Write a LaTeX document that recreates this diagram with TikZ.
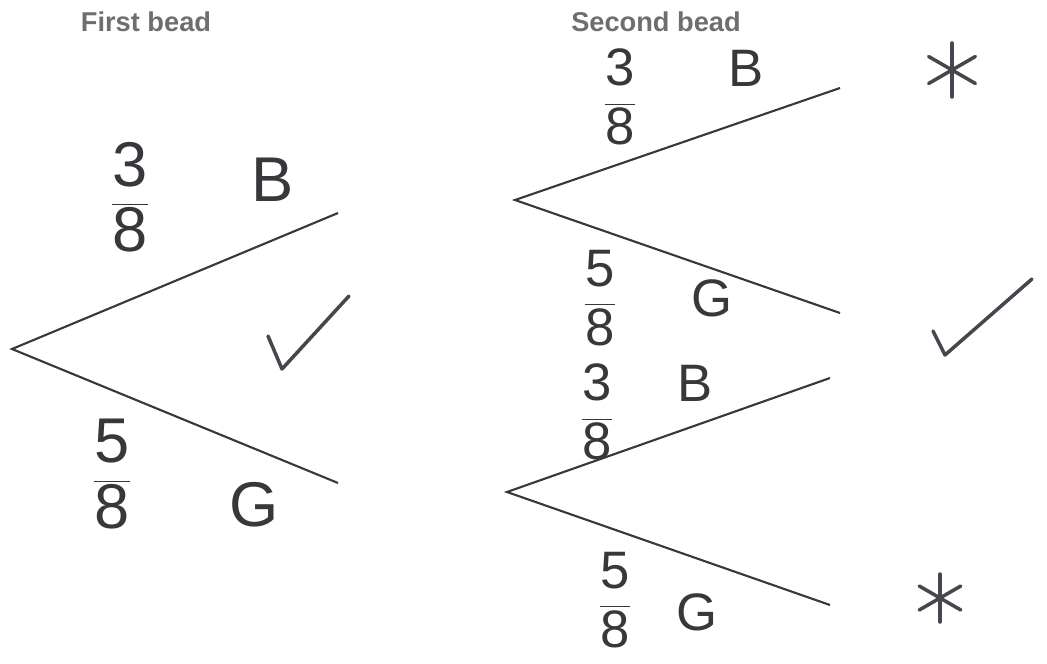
\documentclass[tikz,border=0pt]{standalone}
\usepackage{fontspec}
\setmainfont{Liberation Sans}
\usepackage{xcolor}
\usetikzlibrary{positioning}
\definecolor{inkgray}{RGB}{55, 55, 60}
\definecolor{penngray}{RGB}{70, 70, 78}
\definecolor{headgray}{RGB}{110, 110, 110}
\newcommand{\stackfr}[2]{$\displaystyle\frac{\mbox{#1}}{\mbox{#2}}$}

\begin{document}
\begin{tikzpicture}[x=0.02cm, y=-0.02cm,
    branch/.style={draw=inkgray, line width=1.2pt},
    pen/.style={draw=penngray, line width=2pt, line cap=round, line join=round},
    heading/.style={text=headgray, font=\bfseries\fontsize{15.5}{18}\selectfont},
    hand/.style={text=inkgray, font=\fontsize{36}{40}\selectfont, inner sep=0pt},
    smallhand/.style={text=inkgray, font=\fontsize{30}{34}\selectfont, inner sep=0pt}
]
    \useasboundingbox (0,0) rectangle (1047,663);

    % Headings
    \node[heading] (first) at (146,22) {First bead};
    \node[heading] (second) at (656,22) {Second bead};

    % First bead
    \coordinate (root) at (12,349);
    \coordinate (fB) at (338,213);
    \coordinate (fG) at (338,483);
    \draw[branch] (fB) -- (root) -- (fG);
    \node[hand] (fBp) at (130,197) {\stackfr{3}{8}};
    \node[hand] (fBl) at (273,180) {B};
    \node[hand] (fGp) at (112,474) {\stackfr{5}{8}};
    \node[hand] (fGl) at (254,505) {G};
    \draw[pen] (268,336) -- (282,369) -- (349,296);

    % Second bead - after B
    \coordinate (rootB) at (515,200);
    \coordinate (BB) at (840,88);
    \coordinate (BG) at (840,313);
    \draw[branch] (BB) -- (rootB) -- (BG);
    \node[smallhand] (BBp) at (620,97) {\stackfr{3}{8}};
    \node[smallhand] (BBl) at (746,68) {B};
    \node[smallhand] (BGp) at (600,298) {\stackfr{5}{8}};
    \node[smallhand] (BGl) at (712,298) {G};
    \coordinate (star1) at (952,70);
    \foreach \a in {90,30,150}
        \draw[pen] ([shift={(\a:27)}]star1) -- ([shift={(\a+180:27)}]star1);
    \draw[pen] (933,331) -- (945,355) -- (1032,279);

    % Second bead - after G
    \coordinate (rootG) at (507,492);
    \coordinate (GB) at (830,378);
    \coordinate (GG) at (830,605);
    \draw[branch] (GB) -- (rootG) -- (GG);
    \node[smallhand] (GBp) at (597,412) {\stackfr{3}{8}};
    \node[smallhand] (GBl) at (695,383) {B};
    \node[smallhand] (GGp) at (615,600) {\stackfr{5}{8}};
    \node[smallhand] (GGl) at (697,612) {G};
    \coordinate (star2) at (940,598);
    \foreach \a in {90,30,150}
        \draw[pen] ([shift={(\a:24)}]star2) -- ([shift={(\a+180:24)}]star2);
\end{tikzpicture}
\end{document}
